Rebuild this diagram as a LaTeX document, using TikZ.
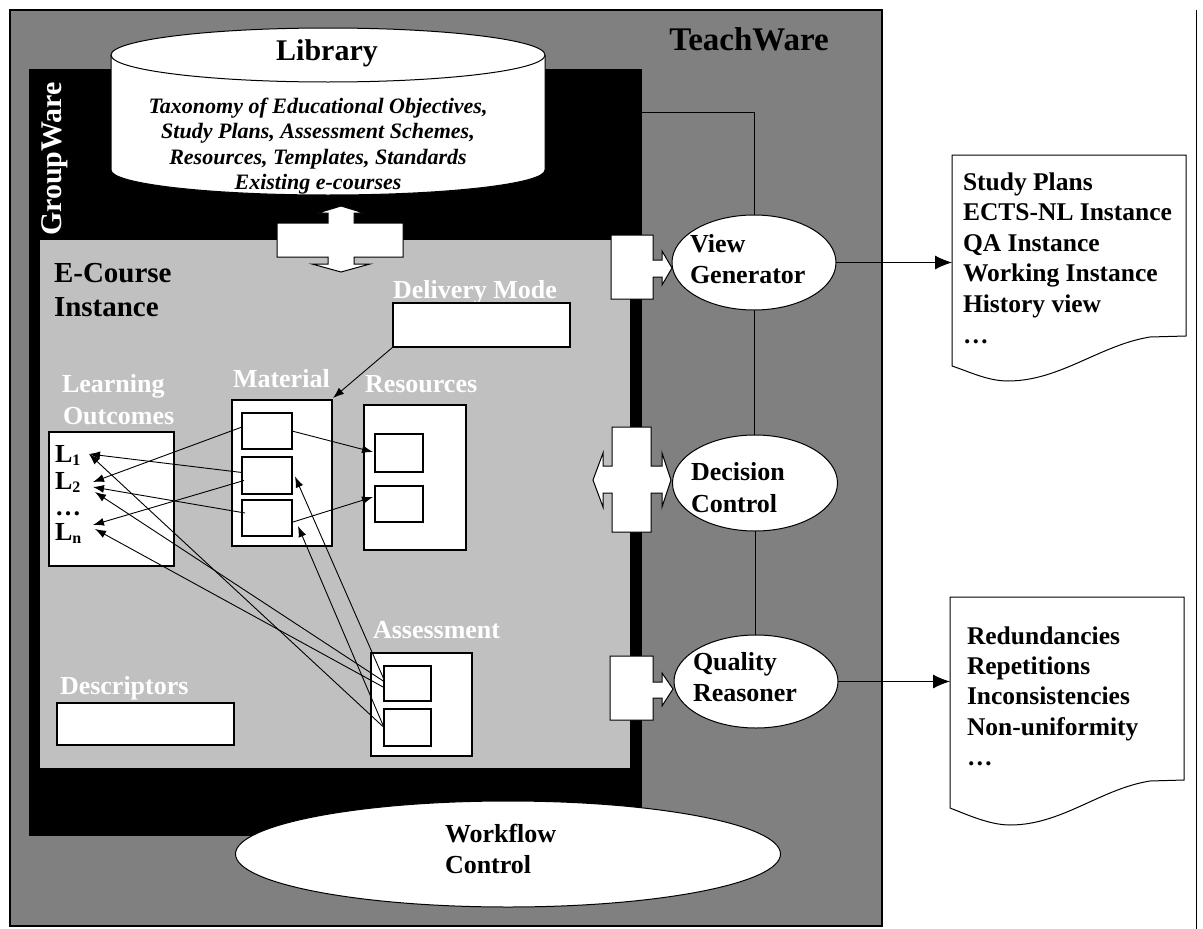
\documentclass[tikz,border=0pt]{standalone}
\usepackage{fontspec}
\setmainfont{Liberation Serif}
\usetikzlibrary{shapes.geometric,arrows.meta,calc}
\newcommand\fsz[2]{\fontsize{#1}{#2}\selectfont}
\newcommand\lsub[1]{\raisebox{-3pt}{\fsz{16}{16}#1}}
\definecolor{twgray}{RGB}{128,128,128}
\definecolor{ecgray}{RGB}{192,192,192}
\begin{document}
\begin{tikzpicture}[x=1pt,y=-1pt,
  every node/.style={inner sep=0pt,outer sep=0pt},
  txt/.style={font=\bfseries\fsz{26}{31},anchor=base west},
  wtxt/.style={txt,text=white},
  doctxt/.style={font=\bfseries\fsz{25.5}{30},anchor=base west},
  rbox/.style={draw=black,fill=white,line width=1.1pt,rectangle},
  oval/.style={ellipse,draw=black,fill=white,line width=1pt},
  link/.style={line width=1pt},
  arr/.style={-{Latex[length=11pt,width=8pt]},line width=0.9pt},
  bigarr/.style={-{Latex[length=17pt,width=14pt]},line width=1pt},
  callout/.style={draw=black,fill=white,line width=1pt,line join=miter}]

% page
\fill[white] (0,0) rectangle (1203,929);
\useasboundingbox (0,0) rectangle (1203,929);
\draw[line width=1pt] (1196,10) -- (1196,929);

% TeachWare, GroupWare and E-Course areas
\draw[fill=twgray,line width=1.2pt] (10,10) rectangle (882,926);
\fill[black] (29,69) rectangle (642,836);
\fill[ecgray] (40,240) rectangle (630,768);

\node[font=\bfseries\fsz{33}{33},anchor=base] (tw) at (749,50) {TeachWare};
\node[font=\bfseries\fsz{30}{30},text=white,rotate=90,anchor=base] (gw) at (61,159) {GroupWare};

% Library cylinder
\path[fill=white] (111,55) -- (111,170) .. controls (111,183.8) and (208.2,195) .. (328,195)
  .. controls (447.8,195) and (545,183.8) .. (545,170) -- (545,55) -- cycle;
\draw[line width=1pt,fill=white] (328,55) ellipse [x radius=217, y radius=27];
\draw[line width=1pt] (111,55) -- (111,170) .. controls (111,183.8) and (208.2,195) .. (328,195)
  .. controls (447.8,195) and (545,183.8) .. (545,170) -- (545,55);
\node[font=\bfseries\fsz{30}{30},anchor=base] (lib) at (327,60) {Library};
\foreach \t [count=\i] in {{Taxonomy of Educational Objectives,},{Study Plans, Assessment Schemes,},{Resources, Templates, Standards},{Existing e-courses}}
  \node[font=\bfseries\itshape\fsz{22}{22},anchor=base] (lib\i) at (318,{113+25.5*(\i-1)}) {\t};
\coordinate (libE) at (545,112);

% exchange between library and e-course
\draw[callout] (277,223) -- (328,223) -- (328,213) -- (318,213) -- (341,206) -- (364,213) -- (354,213)
  -- (354,223) -- (403,223) -- (403,257) -- (354,257) -- (354,264) -- (370,264) -- (341,272)
  -- (312,264) -- (328,264) -- (328,257) -- (277,257) -- cycle;

% E-Course instance
\node[font=\bfseries\fsz{29}{29},anchor=base west] (ec1) at (54,282) {E-Course};
\node[font=\bfseries\fsz{29}{29},anchor=base west] (ec2) at (54,316) {Instance};

\node[wtxt] (dml) at (393,298) {Delivery Mode};
\node[rbox,minimum width=177,minimum height=44] (dm) at (481.5,325) {};

\node[wtxt] (lo1) at (62,392) {Learning};
\node[wtxt] (lo2) at (63,424) {Outcomes};
\node[rbox,minimum width=125,minimum height=134] (lo) at (111.5,499) {};
\node[txt] (l1) at (55,462) {L\lsub{1}};
\node[txt] (l2) at (55,489) {L\lsub{2}};
\node[txt] (ld) at (55,515) {…};
\node[txt] (ln) at (55,540) {L\lsub{n}};

\node[wtxt] (matl) at (233,387) {Material};
\node[rbox,minimum width=100,minimum height=146] (mat) at (282,473) {};
\node[rbox,minimum width=50,minimum height=36] (m1) at (267,431) {};
\node[rbox,minimum width=50,minimum height=37] (m2) at (267,475.5) {};
\node[rbox,minimum width=50,minimum height=36] (m3) at (267,518) {};

\node[wtxt] (resl) at (365,392) {Resources};
\node[rbox,minimum width=102,minimum height=145] (res) at (415,477.5) {};
\node[rbox,minimum width=48,minimum height=38] (r1) at (399,453) {};
\node[rbox,minimum width=48,minimum height=36] (r2) at (399,504) {};

\node[wtxt] (asl) at (373,638) {Assessment};
\node[rbox,minimum width=101,minimum height=103] (as) at (421.5,704.5) {};
\node[rbox,minimum width=47,minimum height=35] (a1) at (407.5,683.5) {};
\node[rbox,minimum width=47,minimum height=37] (a2) at (407.5,727.5) {};

\node[wtxt] (desl) at (60,694) {Descriptors};
\node[rbox,minimum width=177,minimum height=42] (des) at (145.5,724) {};

% arrow ends next to the outcomes
\coordinate (tl1) at (89,454);
\coordinate (tl2a) at (93,482);
\coordinate (tl2b) at (93,487);
\coordinate (tl2c) at (95,492);
\coordinate (tlna) at (93,525);
\coordinate (tlnb) at (95,529);

% links inside the e-course
\draw[arr] (dm.south west) -- ($(mat.north east)+(1,-2)$);
\draw[arr] ($(m1.west)+(0,-4)$) -- (tl2a);
\draw[arr] ($(m2.west)+(0,-3)$) -- (tl1);
\draw[arr] ($(m2.west)+(2,5)$) -- (tlna);
\draw[arr] ($(m3.west)+(3,-5)$) -- (tl2b);
\draw[arr] (a2.west) -- (tl1);
\draw[arr] ($(a1.west)+(0,-2)$) -- (tl2c);
\draw[arr] ($(a1.west)+(0,4)$) -- (tlnb);
\draw[arr] ($(a1.west)+(0,-4)$) -- ($(m2.east)+(3,1)$);
\draw[arr] (a2.west) -- ($(m3.east)+(6,8)$);
\draw[arr] (m1.east) -- ($(r1.west)+(-2,-1)$);
\draw[arr] ($(m3.east)+(1,4)$) -- ($(r2.west)+(-2,-7)$);

% callouts towards the TeachWare services
\draw[callout] (611,235) -- (653,235) -- (653,260) -- (662,260) -- (662,251) -- (672,268) -- (662,285)
  -- (662,277) -- (653,277) -- (653,299) -- (611,299) -- cycle;
\draw[callout] (612,427) -- (651,427) -- (651,466) -- (662,466) -- (662,453) -- (671,480) -- (662,507)
  -- (662,493) -- (651,493) -- (651,532) -- (612,532) -- (612,493) -- (603,493) -- (603,507)
  -- (593,480) -- (603,453) -- (603,466) -- (612,466) -- cycle;
\draw[callout] (610,656) -- (653,656) -- (653,682) -- (662,682) -- (662,673) -- (673,689) -- (662,706)
  -- (662,698) -- (653,698) -- (653,720) -- (610,720) -- cycle;

% services
\node[oval,minimum width=164,minimum height=95] (vg) at (754,262.5) {};
\node[txt] (vgt1) at (690,252) {View};
\node[txt] (vgt2) at (690,283) {Generator};
\node[oval,minimum width=165,minimum height=96] (dc) at (755,483) {};
\node[txt] (dct1) at (691,480) {Decision};
\node[txt] (dct2) at (691,512) {Control};
\node[oval,minimum width=164,minimum height=93] (qr) at (756,681.5) {};
\node[txt] (qrt1) at (693,670) {Quality};
\node[txt] (qrt2) at (693,701) {Reasoner};
\node[oval,minimum width=545,minimum height=106] (wf) at (508,854) {};
\node[txt] (wft1) at (445,842) {Workflow};
\node[txt] (wft2) at (445,873) {Control};

\draw[link] (libE) -| (vg.north);
\draw[link] (vg.south) -- (vg.south |- dc.north);
\draw[link] (dc.south) -- (dc.south |- qr.north);

% generated documents
\node[minimum width=234,minimum height=211,anchor=north west] (doc1) at (952,155) {};
\draw[line width=1pt,fill=white] (doc1.north west) -- (doc1.north east) -- (1186,336) -- (1150,337)
  .. controls (1100,345) and (1060,381) .. (1008,381)
  .. controls (988,381) and (970,372) .. (doc1.south west) -- cycle;
\foreach \t [count=\i] in {Study Plans,ECTS-NL Instance,QA Instance,Working Instance,History view,…}
  \node[doctxt] (d1l\i) at (963,{190+30.6*(\i-1)}) {\t};

\node[minimum width=234,minimum height=211,anchor=north west] (doc2) at (950,597) {};
\draw[line width=1pt,fill=white] (doc2.north west) -- (doc2.north east) -- (1184,780) -- (1150,781)
  .. controls (1100,789) and (1062,825) .. (1010,825)
  .. controls (990,825) and (968,815) .. (doc2.south west) -- cycle;
\foreach \t [count=\i] in {Redundancies,Repetitions,Inconsistencies,Non-uniformity,…}
  \node[doctxt] (d2l\i) at (967,{644+30.4*(\i-1)}) {\t};

\draw[bigarr] (vg.east) -- (vg.east -| doc1.west);
\draw[bigarr] (qr.east) -- (qr.east -| doc2.west);
\end{tikzpicture}
\end{document}
